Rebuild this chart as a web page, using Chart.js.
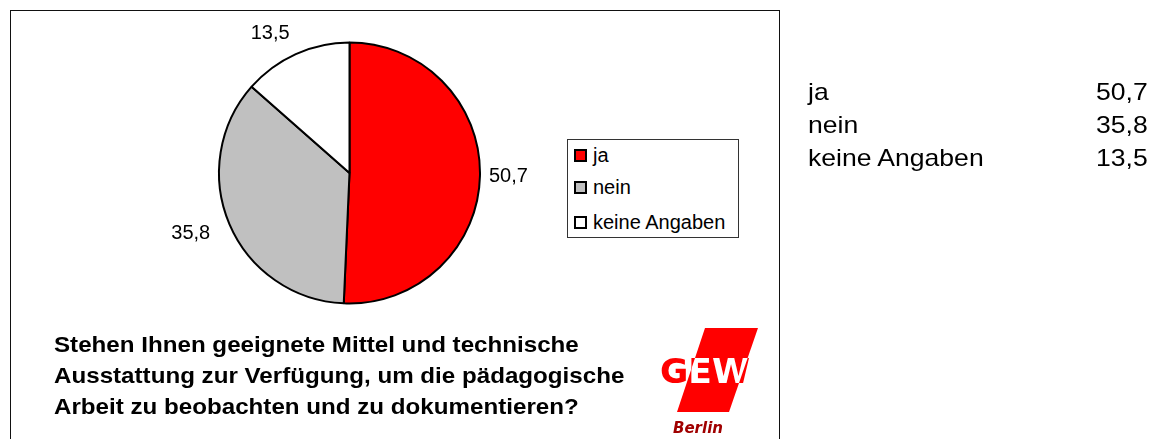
<!DOCTYPE html>
<html>
<head>
<meta charset="utf-8">
<script src="https://cdn.jsdelivr.net/npm/chart.js@4.4.0/dist/chart.umd.min.js"></script>
<style>
  html, body { margin:0; padding:0; background:#fff; }
  body { width:1154px; height:439px; position:relative; overflow:hidden; font-family:"Liberation Sans", Arial, sans-serif; color:#000; }
  #frame { position:absolute; left:10px; top:10px; width:770px; height:445px; border:1.5px solid #111; box-sizing:border-box; }
  #c { position:absolute; left:0; top:0; }
  #legend { position:absolute; left:567px; top:139px; width:172px; height:99px; border:1px solid #333; box-sizing:border-box; background:#fff; }
  .li { position:absolute; left:6px; font-size:20px; line-height:20px; white-space:nowrap; }
  .sw { position:absolute; left:0; top:4px; width:9px; height:9px; border:2px solid #000; }
  .li span.t { position:absolute; left:19px; top:0; }
  #title { position:absolute; left:54px; top:329px; font-weight:bold; font-size:22px; line-height:31px; white-space:nowrap; transform:scaleX(1.098); transform-origin:0 0; }
  .cell { position:absolute; font-size:24px; line-height:24px; white-space:nowrap; }
  .cl { left:808px; transform:scaleX(1.106); transform-origin:0 0; }
  .cr { right:6px; transform:scaleX(1.106); transform-origin:100% 0; }
  #logo { position:absolute; left:650px; top:320px; }
</style>
</head>
<body>
<div id="frame"></div>
<canvas id="c" width="1154" height="439"></canvas>
<div id="legend"></div>
<div id="title"></div>
<div id="table"></div>
<svg id="logo" width="125" height="119" viewBox="650 320 125 119">
  <defs>
    <clipPath id="para"><polygon points="705,328 758,328 729,412 677,412"/></clipPath>
  </defs>
  <polygon points="705,328 758,328 729,412 677,412" fill="#ff0000"/>
  <text x="660" y="383" font-family="DejaVu Sans" font-weight="bold" font-size="34" textLength="90" lengthAdjust="spacingAndGlyphs" fill="#ff0000">GEW</text>
  <g clip-path="url(#para)">
    <text x="660" y="383" font-family="DejaVu Sans" font-weight="bold" font-size="34" textLength="90" lengthAdjust="spacingAndGlyphs" fill="#ffffff">GEW</text>
  </g>
  <text x="673" y="433" font-family="DejaVu Sans" font-style="italic" font-weight="bold" font-size="15" textLength="50" lengthAdjust="spacingAndGlyphs" fill="#a00000">Berlin</text>
</svg>
<script>
const categories = ["ja", "nein", "keine Angaben"];
const values = [50.7, 35.8, 13.5];
const colors = ["#ff0000", "#c0c0c0", "#ffffff"];
const titleLines = [
  "Stehen Ihnen geeignete Mittel und technische",
  "Ausstattung zur Verfügung, um die pädagogische",
  "Arbeit zu beobachten und zu dokumentieren?"
];
// pixel nudges for the outside value labels (style only)
const labelNudges = [[-7, 0], [-6, 0], [-11, 1]];

const fmt = v => v.toFixed(1).replace('.', ',');

document.getElementById('title').innerHTML = titleLines.join('<br>');

const table = document.getElementById('table');
const rowTops = [80, 113, 146];
categories.forEach((c, i) => {
  const a = document.createElement('div');
  a.className = 'cell cl';
  a.style.top = rowTops[i] + 'px';
  a.textContent = c;
  const b = document.createElement('div');
  b.className = 'cell cr';
  b.style.top = rowTops[i] + 'px';
  b.textContent = fmt(values[i]);
  table.appendChild(a);
  table.appendChild(b);
});

const legend = document.getElementById('legend');
const legendTops = [5, 37, 72];
categories.forEach((c, i) => {
  const li = document.createElement('div');
  li.className = 'li';
  li.style.top = legendTops[i] + 'px';
  li.innerHTML = '<div class="sw" style="background:' + colors[i] + '"></div><span class="t">' + c + '</span>';
  legend.appendChild(li);
});

const outerLabels = {
  id: 'outerLabels',
  afterDatasetsDraw(chart) {
    const ctx = chart.ctx;
    const meta = chart.getDatasetMeta(0);
    ctx.save();
    ctx.font = '20px "Liberation Sans", Arial, sans-serif';
    ctx.fillStyle = '#000';
    ctx.textAlign = 'center';
    ctx.textBaseline = 'middle';
    meta.data.forEach((arc, i) => {
      const p = arc.getProps(['x', 'y', 'startAngle', 'endAngle', 'outerRadius'], true);
      const mid = (p.startAngle + p.endAngle) / 2;
      const dx = Math.cos(mid), dy = Math.sin(mid);
      const txt = fmt(chart.data.datasets[0].data[i]);
      const w = ctx.measureText(txt).width;
      const h = 15;
      const ax = p.x + dx * (p.outerRadius + 16);
      const ay = p.y + dy * (p.outerRadius + 16);
      const n = labelNudges[i] || [0, 0];
      ctx.fillText(txt, ax + dx * w / 2 + n[0], ay + dy * h / 2 + n[1]);
    });
    ctx.restore();
  }
};

new Chart(document.getElementById('c'), {
  type: 'pie',
  data: {
    labels: categories,
    datasets: [{
      data: values,
      backgroundColor: colors,
      borderColor: '#000',
      borderWidth: 2,
      borderAlign: 'center'
    }]
  },
  options: {
    responsive: false,
    animation: false,
    devicePixelRatio: 1,
    layout: { padding: { left: 218, right: 673, top: 41, bottom: 134 } },
    plugins: { legend: { display: false }, tooltip: { enabled: false } }
  },
  plugins: [outerLabels]
});
</script>
</body>
</html>
